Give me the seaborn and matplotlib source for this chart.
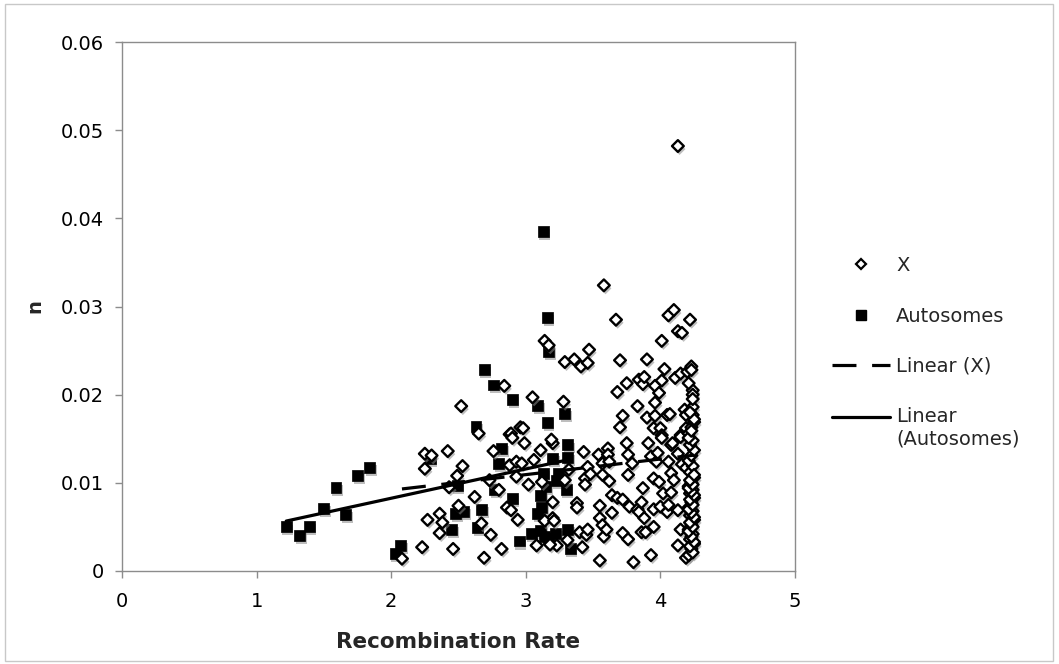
import numpy as np
import pandas as pd
import seaborn as sns
import matplotlib
matplotlib.use("Agg")
import matplotlib.pyplot as plt
import matplotlib.patheffects as pe
from matplotlib.lines import Line2D
from matplotlib.patches import Rectangle
from matplotlib.legend_handler import HandlerLine2D

# ---------------- data ----------------
x_rate = [
    2.08, 2.23, 2.25, 2.30, 2.25, 2.27, 2.36, 2.38, 2.36, 2.42, 2.43, 2.46, 2.49, 2.50, 2.52, 2.53,
    2.62, 2.65, 2.67, 2.69,
    2.73, 2.74, 2.76, 2.80, 2.82, 2.84, 2.86, 2.88, 2.88, 2.89, 2.89, 2.90, 2.93, 2.93, 2.94, 2.96,
    2.97, 2.98, 2.99,
    3.02, 3.05, 3.06, 3.08, 3.11, 3.12, 3.14, 3.17, 3.20, 3.20, 3.20, 3.23, 3.28, 3.29, 3.29, 3.31,
    3.32, 3.36, 3.38, 3.38, 3.40, 3.41, 3.42, 3.43, 3.44, 3.44, 3.45, 3.46, 3.46, 3.46, 3.47, 3.48,
    3.14, 3.18, 3.19, 3.21,
    3.54, 3.55, 3.55, 3.55, 3.57, 3.57, 3.57, 3.58, 3.58, 3.60, 3.61, 3.61, 3.62, 3.62, 3.64, 3.64,
    3.67, 3.68, 3.68, 3.70, 3.70, 3.72, 3.72, 3.72, 3.75, 3.75, 3.76, 3.76, 3.76, 3.77, 3.79, 3.80,
    3.83, 3.83, 3.84, 3.84, 3.86, 3.86, 3.87, 3.87, 3.88, 3.88, 3.89, 3.90, 3.90, 3.91, 3.93, 3.93,
    3.95, 3.95, 3.95, 3.95, 3.96, 3.96, 3.96, 3.97, 3.98, 3.99, 3.99,
    4.00, 4.00, 4.01, 4.01, 4.01, 4.01, 4.02, 4.03, 4.05, 4.05, 4.06, 4.06, 4.06, 4.07, 4.08, 4.08,
    4.08, 4.09, 4.10, 4.10, 4.11, 4.13, 4.13, 4.13, 4.13, 4.13, 4.15, 4.15, 4.15, 4.15, 4.16, 4.16,
    4.18, 4.19, 4.19, 4.19, 4.19,
    4.20, 4.21, 4.22, 4.23, 4.23, 4.24, 4.24, 4.24, 4.24, 4.25,
    4.21, 4.23, 4.25, 4.22, 4.24, 4.21, 4.23, 4.25, 4.22, 4.24, 4.21, 4.23, 4.25, 4.22, 4.24, 4.21,
    4.23, 4.25, 4.22, 4.24, 4.21, 4.23, 4.25, 4.22, 4.24, 4.21, 4.23, 4.25, 4.22, 4.24, 4.21, 4.23,
    4.24, 4.22, 4.25, 4.23, 4.21, 4.24, 4.22, 4.25, 4.23, 4.21, 4.24, 4.22, 4.25, 4.23, 4.21, 4.24,
    4.22, 4.25,
]
x_pi = [
    0.0014, 0.0027, 0.0133, 0.0131, 0.0116, 0.0058, 0.0065, 0.0055, 0.0043, 0.0136, 0.0095, 0.0025,
    0.0108, 0.0074, 0.0187, 0.0119,
    0.0084, 0.0156, 0.0054, 0.0015,
    0.0103, 0.0041, 0.0136, 0.0092, 0.0025, 0.0210, 0.0072, 0.0155, 0.0120, 0.0069, 0.0156, 0.0151,
    0.0124, 0.0107, 0.0058, 0.0163, 0.0122, 0.0162, 0.0145,
    0.0098, 0.0197, 0.0126, 0.0029, 0.0137, 0.0101, 0.0261, 0.0256, 0.0145, 0.0078, 0.0060, 0.0029,
    0.0192, 0.0237, 0.0103, 0.0035, 0.0115, 0.0240, 0.0077, 0.0072, 0.0044, 0.0232, 0.0027, 0.0135,
    0.0105, 0.0098, 0.0041, 0.0236, 0.0118, 0.0047, 0.0251, 0.0110,
    0.0057, 0.0030, 0.0149, 0.0057,
    0.0132, 0.0074, 0.0060, 0.0012, 0.0122, 0.0109, 0.0052, 0.0324, 0.0039, 0.0047, 0.0139, 0.0132,
    0.0124, 0.0102, 0.0086, 0.0066,
    0.0285, 0.0203, 0.0083, 0.0239, 0.0163, 0.0176, 0.0081, 0.0043, 0.0213, 0.0145, 0.0132, 0.0109,
    0.0036, 0.0073, 0.0122, 0.0010,
    0.0187, 0.0070, 0.0217, 0.0067, 0.0078, 0.0044, 0.0212, 0.0094, 0.0220, 0.0060, 0.0044, 0.0240,
    0.0174, 0.0145, 0.0130, 0.0018,
    0.0162, 0.0105, 0.0070, 0.0050, 0.0210, 0.0191, 0.0176, 0.0124, 0.0134, 0.0202, 0.0101,
    0.0162, 0.0073, 0.0261, 0.0216, 0.0154, 0.0151, 0.0088, 0.0229, 0.0177, 0.0067, 0.0290, 0.0124,
    0.0075, 0.0178, 0.0143, 0.0111,
    0.0089, 0.0145, 0.0296, 0.0103, 0.0219, 0.0482, 0.0272, 0.0133, 0.0069, 0.0029, 0.0224, 0.0154,
    0.0152, 0.0047, 0.0270, 0.0121,
    0.0183, 0.0177, 0.0162, 0.0117, 0.0015,
    0.0226, 0.0156, 0.0285, 0.0232, 0.0163, 0.0205, 0.0200, 0.0186, 0.0177, 0.0169,
    0.0018, 0.0025, 0.0031, 0.0036, 0.0042, 0.0047, 0.0052, 0.0058, 0.0063, 0.0068, 0.0072, 0.0078,
    0.0083, 0.0088, 0.0092, 0.0096, 0.0100, 0.0106, 0.0112, 0.0119, 0.0125, 0.0131, 0.0137, 0.0143,
    0.0148, 0.0151, 0.0159, 0.0172, 0.0180, 0.0195, 0.0213, 0.0228,
    0.0021, 0.0028, 0.0033, 0.0039, 0.0045, 0.0050, 0.0055, 0.0061, 0.0066, 0.0070, 0.0075, 0.0081,
    0.0086, 0.0090, 0.0094, 0.0098, 0.0103, 0.0109,
]

auto_rate = [
    1.22, 1.32, 1.39, 1.50, 1.59, 1.66, 1.75, 1.84, 2.03, 2.07, 2.29, 2.45, 2.48, 2.49, 2.54, 2.63,
    2.64, 2.67, 2.69, 2.76, 2.77, 2.80, 2.82, 2.90, 2.90, 2.95, 3.04, 3.09, 3.09, 3.11, 3.11, 3.12,
    3.13, 3.13, 3.14, 3.15, 3.16, 3.16, 3.17, 3.17, 3.20, 3.22, 3.23, 3.24, 3.29, 3.30, 3.31, 3.31,
    3.31, 3.33,
]
auto_pi = [
    0.0050, 0.0040, 0.0051, 0.0071, 0.0095, 0.0064, 0.0108, 0.0117, 0.0020, 0.0029, 0.0128, 0.0047,
    0.0065, 0.0097, 0.0068, 0.0164, 0.0049, 0.0070, 0.0229, 0.0211, 0.0092, 0.0122, 0.0139, 0.0195,
    0.0082, 0.0034, 0.0043, 0.0065, 0.0188, 0.0046, 0.0086, 0.0072, 0.0385, 0.0111, 0.0039, 0.0096,
    0.0288, 0.0168, 0.0249, 0.0037, 0.0128, 0.0043, 0.0103, 0.0111, 0.0179, 0.0092, 0.0047, 0.0143,
    0.0129, 0.0025,
]

x_ticks = [0, 1, 2, 3, 4, 5]
y_ticks = [0, 0.01, 0.02, 0.03, 0.04, 0.05, 0.06]
y_tick_labels = ["0", "0.01", "0.02", "0.03", "0.04", "0.05", "0.06"]
legend_labels = ["X", "Autosomes", "Linear (X)", "Linear\n(Autosomes)"]
x_label = "Recombination Rate"
y_label = "n"

# ---------------- style ----------------
sns.set_theme(style="white")
plt.rcParams['font.family'] = ['DejaVu Sans']

W, H = 1059, 664
fig = plt.figure(figsize=(W / 100, H / 100), dpi=100)
fig.patch.set_facecolor("white")
ax = fig.add_axes([122 / W, 1 - 571 / H, (795 - 122) / W, (571 - 42) / H])

df_x = pd.DataFrame({"rate": x_rate, "pi": x_pi})
df_a = pd.DataFrame({"rate": auto_rate, "pi": auto_pi})

shadow = [pe.SimplePatchShadow(offset=(1.2, -2.2), shadow_rgbFace="#8a8a8a", alpha=0.55), pe.Normal()]

sns.scatterplot(data=df_a, x="rate", y="pi", marker="s", s=62, color="black",
                edgecolor="black", linewidth=0.5, ax=ax, zorder=3, legend=False)
sns.scatterplot(data=df_x, x="rate", y="pi", marker="D", s=36, color="white",
                edgecolor="black", linewidth=1.7, ax=ax, zorder=4, legend=False)
for coll in ax.collections:
    coll.set_path_effects(shadow)

dash = (0, (7.5, 4.9))
sns.regplot(data=df_x, x="rate", y="pi", scatter=False, ci=None, truncate=True, ax=ax,
            line_kws=dict(color="black", lw=2.3, linestyle=dash, zorder=5))
sns.regplot(data=df_a, x="rate", y="pi", scatter=False, ci=None, truncate=True, ax=ax,
            line_kws=dict(color="black", lw=2.3, zorder=5))

ax.set_xlim(0, 5)
ax.set_ylim(0, 0.06)
ax.set_xticks(x_ticks)
ax.set_xticklabels([str(t) for t in x_ticks])
ax.set_yticks(y_ticks)
ax.set_yticklabels(y_tick_labels)

spine_color = "#8c8c8c"
for s in ax.spines.values():
    s.set_visible(True)
    s.set_color(spine_color)
    s.set_linewidth(1.0)
ax.tick_params(axis="both", which="major", direction="out", length=5, width=1.0,
               color=spine_color, labelsize=14, labelcolor="black")
ax.tick_params(axis="x", pad=10)
ax.tick_params(axis="y", pad=8)
ax.tick_params(bottom=True, left=True, top=False, right=False)

ax.set_xlabel(x_label, fontsize=15.5, fontweight="bold", labelpad=15)
ax.set_ylabel(y_label, fontsize=14, fontweight="bold", labelpad=12)


class TopLineHandler(HandlerLine2D):
    """Line handle aligned with the first line of a two-line label."""
    def create_artists(self, legend, orig_handle, xdescent, ydescent, width, height,
                       fontsize, trans):
        artists = super().create_artists(legend, orig_handle, xdescent, ydescent, width,
                                         height, fontsize, trans)
        for a in artists:
            a.set_ydata(np.asarray(a.get_ydata()) + 0.58 * fontsize)
        return artists


handles = [
    Line2D([], [], linestyle="none", marker="D", markersize=5.5, markerfacecolor="white",
           markeredgecolor="black", markeredgewidth=1.6),
    Line2D([], [], linestyle="none", marker="s", markersize=7.5, markerfacecolor="black",
           markeredgecolor="black"),
    Line2D([], [], color="black", lw=2.3, linestyle=dash),
    Line2D([], [], color="black", lw=2.3),
]
leg = ax.legend(handles, legend_labels, loc="upper left",
                bbox_to_anchor=(832 / W, 1 - 256 / H), bbox_transform=fig.transFigure,
                frameon=False, fontsize=14, handlelength=3.0, handletextpad=0.3,
                labelspacing=1.62, borderpad=0, borderaxespad=0,
                handler_map={handles[3]: TopLineHandler()})

fig.patches.append(Rectangle((5 / W, 3 / H), (1053 - 5) / W, (660 - 3) / H,
                             transform=fig.transFigure, fill=False,
                             edgecolor="#c8c8c8", lw=1.0))

fig.savefig("out.png", dpi=100, facecolor="white")
